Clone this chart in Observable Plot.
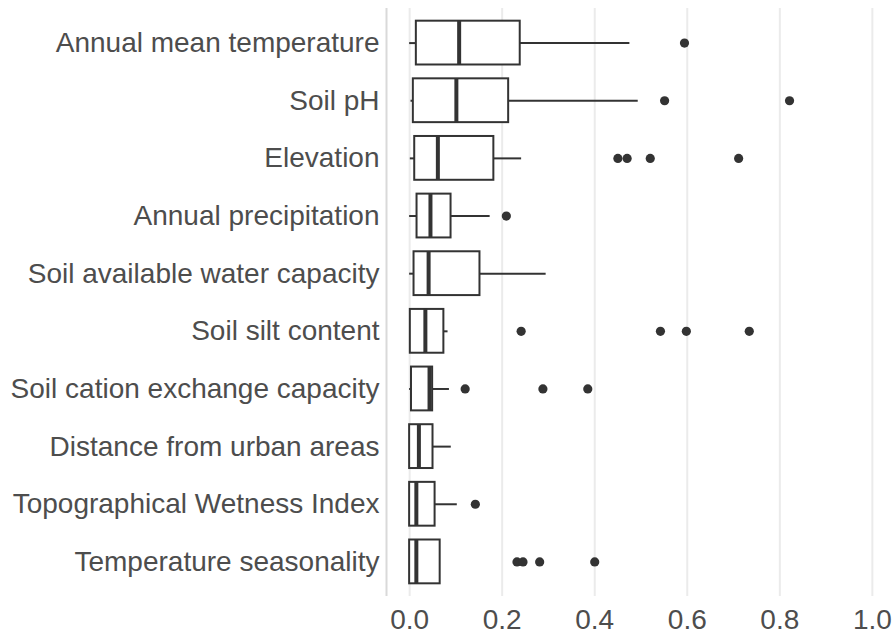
<!DOCTYPE html>
<html>
<head>
<meta charset="utf-8">
<script src="https://cdn.jsdelivr.net/npm/d3@7"></script>
<script src="https://cdn.jsdelivr.net/npm/@observablehq/plot@0.6"></script>
<style>
  html, body { margin: 0; padding: 0; background: #ffffff; }
</style>
</head>
<body>
<div id="chart"></div>
<script>
const categories = [
  "Annual mean temperature",
  "Soil pH",
  "Elevation",
  "Annual precipitation",
  "Soil available water capacity",
  "Soil silt content",
  "Soil cation exchange capacity",
  "Distance from urban areas",
  "Topographical Wetness Index",
  "Temperature seasonality"
];
const whiskerLow  = [0.000, 0.003, 0.0015, 0.000, 0.000, 0.000, 0.000, 0.000, 0.000, 0.000];
const q1          = [0.0145, 0.008, 0.011, 0.016, 0.0095, 0.0015, 0.004, 0.000, 0.000, 0.000];
const median      = [0.107, 0.101, 0.061, 0.045, 0.041, 0.034, 0.043, 0.020, 0.0145, 0.0145];
const q3          = [0.239, 0.214, 0.182, 0.0895, 0.152, 0.074, 0.0497, 0.0505, 0.055, 0.066];
const whiskerHigh = [0.476, 0.494, 0.242, 0.174, 0.295, 0.083, 0.086, 0.090, 0.103, 0.066];

const outlierCategory = [
  "Annual mean temperature",
  "Soil pH", "Soil pH",
  "Elevation", "Elevation", "Elevation", "Elevation",
  "Annual precipitation",
  "Soil silt content", "Soil silt content", "Soil silt content", "Soil silt content",
  "Soil cation exchange capacity", "Soil cation exchange capacity", "Soil cation exchange capacity",
  "Topographical Wetness Index",
  "Temperature seasonality", "Temperature seasonality", "Temperature seasonality", "Temperature seasonality"
];
const outlierValue = [
  0.594,
  0.551, 0.821,
  0.450, 0.470, 0.520, 0.711,
  0.209,
  0.241, 0.542, 0.598, 0.734,
  0.120, 0.288, 0.385,
  0.142,
  0.232, 0.245, 0.281, 0.400
];

const xTicks = [0, 0.2, 0.4, 0.6, 0.8, 1.0];
const xDomain = [-0.05, 1.05];

const boxes = categories.map((c, i) => ({
  cat: c, lo: whiskerLow[i], q1: q1[i], med: median[i], q3: q3[i], hi: whiskerHigh[i]
}));
const outliers = outlierCategory.map((c, i) => ({cat: c, v: outlierValue[i]}));

const ink = "#333333";
const textColor = "#4d4d4d";

const chart = Plot.plot({
  width: 896,
  height: 634,
  marginLeft: 386,
  marginRight: 1,
  marginTop: 8,
  marginBottom: 38,
  style: {
    fontFamily: "'Liberation Sans', Arial, Helvetica, sans-serif",
    fontSize: "28px",
    color: textColor,
    background: "#ffffff"
  },
  x: {domain: xDomain, label: null},
  y: {type: "band", domain: categories, paddingInner: 0.24, paddingOuter: 0.22, round: false, label: null},
  marks: [
    Plot.gridX(xTicks, {stroke: "#ebebeb", strokeOpacity: 1, strokeWidth: 2}),
    Plot.ruleX([xDomain[0]], {stroke: "#d9d9d9", strokeWidth: 2}),
    Plot.axisY({tickSize: 0, tickPadding: 7, fontSize: 28, label: null, fill: textColor}),
    Plot.axisX(xTicks, {tickSize: 0, tickPadding: 13, fontSize: 28, label: null, tickFormat: d3.format(".1f"), fill: textColor}),
    Plot.ruleY(boxes, {y: "cat", x1: "lo", x2: "q1", stroke: ink, strokeWidth: 2}),
    Plot.ruleY(boxes, {y: "cat", x1: "q3", x2: "hi", stroke: ink, strokeWidth: 2}),
    Plot.barX(boxes, {y: "cat", x1: "q1", x2: "q3", fill: "#ffffff", stroke: ink, strokeWidth: 2}),
    Plot.tickX(boxes, {y: "cat", x: "med", stroke: ink, strokeWidth: 4}),
    Plot.dot(outliers, {y: "cat", x: "v", r: 4.6, fill: ink, stroke: null})
  ]
});
document.getElementById("chart").appendChild(chart);
</script>
</body>
</html>
